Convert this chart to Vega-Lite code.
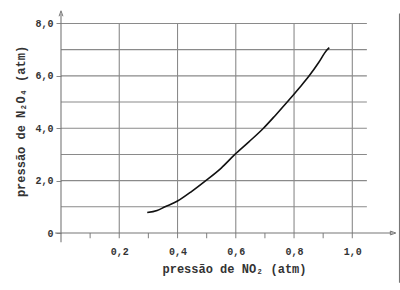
{
  "$schema": "https://vega.github.io/schema/vega-lite/v6.json",
  "width": 335,
  "height": 220,
  "autosize": "none",
  "padding": {"left": 61, "top": 13, "right": 4, "bottom": 57},
  "background": "white",
  "config": {"view": {"stroke": null}},
  "datasets": {
    "curve": [
      {"x": 0.296, "y": 0.78},
      {"x": 0.33, "y": 0.86},
      {"x": 0.357, "y": 1.0},
      {"x": 0.40, "y": 1.22},
      {"x": 0.45, "y": 1.6},
      {"x": 0.497, "y": 2.0},
      {"x": 0.55, "y": 2.48},
      {"x": 0.597, "y": 3.0},
      {"x": 0.645, "y": 3.48},
      {"x": 0.695, "y": 4.0},
      {"x": 0.735, "y": 4.48},
      {"x": 0.775, "y": 4.98},
      {"x": 0.815, "y": 5.5},
      {"x": 0.852, "y": 6.0},
      {"x": 0.884, "y": 6.5},
      {"x": 0.912, "y": 6.98},
      {"x": 0.921, "y": 7.08}
    ],
    "hgrid": [
      {"y": 1, "x": 0, "x2": 1.05},
      {"y": 2, "x": 0, "x2": 1.05},
      {"y": 3, "x": 0, "x2": 1.05},
      {"y": 4, "x": 0, "x2": 1.05},
      {"y": 5, "x": 0, "x2": 1.05},
      {"y": 6, "x": 0, "x2": 1.05},
      {"y": 7, "x": 0, "x2": 1.05},
      {"y": 8, "x": 0, "x2": 1.05}
    ],
    "vgrid": [
      {"x": 0.1, "y": 0, "y2": -0.2},
      {"x": 0.2, "y": -0.2, "y2": 8},
      {"x": 0.3, "y": 0, "y2": -0.2},
      {"x": 0.4, "y": -0.2, "y2": 8},
      {"x": 0.5, "y": 0, "y2": -0.2},
      {"x": 0.6, "y": -0.2, "y2": 8},
      {"x": 0.7, "y": 0, "y2": -0.2},
      {"x": 0.8, "y": -0.2, "y2": 8},
      {"x": 0.9, "y": 0, "y2": -0.2},
      {"x": 1.0, "y": -0.2, "y2": 8}
    ],
    "axislines": [
      {"x": -0.02, "x2": 1.14, "y": 0, "y2": 0},
      {"x": 0, "x2": 0, "y": -0.35, "y2": 8.38},
      {"x": 1.162, "x2": 1.162, "y": -1.9, "y2": 8.38}
    ]
  },
  "layer": [
    {
      "data": {"name": "hgrid"},
      "mark": {"type": "rule", "color": "#8a8a8a", "strokeWidth": 1.1},
      "encoding": {
        "x": {
          "field": "x", "type": "quantitative",
          "scale": {"domain": [0, 1.15], "nice": false, "zero": false},
          "axis": {
            "values": [0.2, 0.4, 0.6, 0.8, 1.0],
            "format": ".1f",
            "labelExpr": "replace(datum.label, '.', ',')",
            "labelOverlap": false,
            "domain": false, "grid": false, "ticks": false,
            "labelFont": "Liberation Mono", "labelFontWeight": "bold", "labelFontSize": 10,
            "labelColor": "#333", "labelPadding": 13,
            "title": "pressão de NO₂ (atm)",
            "titleFont": "Liberation Mono", "titleFontWeight": "bold", "titleFontSize": 12,
            "titleColor": "#333", "titleX": 173, "titleY": 35, "titleBaseline": "middle"
          }
        },
        "x2": {"field": "x2"},
        "y": {
          "field": "y", "type": "quantitative",
          "scale": {"domain": [0, 8.4], "nice": false, "zero": false},
          "axis": {
            "values": [0, 0.5, 1, 1.5, 2, 2.5, 3, 3.5, 4, 4.5, 5, 5.5, 6, 6.5, 7, 7.5, 8],
            "labelExpr": "datum.value==0 ? '0' : (datum.value%2==0 ? replace(format(datum.value,'.1f'),'.',',') : '')",
            "labelOverlap": false,
            "domain": false, "grid": false,
            "tickSize": 5, "tickColor": "#888", "tickWidth": 1,
            "labelFont": "Liberation Mono", "labelFontWeight": "bold", "labelFontSize": 10,
            "labelColor": "#333", "labelPadding": 3,
            "title": "pressão de N₂O₄ (atm)",
            "titleFont": "Liberation Mono", "titleFontWeight": "bold", "titleFontSize": 12,
            "titleColor": "#333", "titleX": -41, "titleY": 108, "titleBaseline": "middle", "titleAngle": -90
          }
        }
      }
    },
    {
      "data": {"name": "vgrid"},
      "mark": {"type": "rule", "color": "#8a8a8a", "strokeWidth": 1.1},
      "encoding": {
        "x": {"field": "x", "type": "quantitative"},
        "y": {"field": "y", "type": "quantitative"},
        "y2": {"field": "y2"}
      }
    },
    {
      "data": {"name": "axislines"},
      "mark": {"type": "rule", "color": "#777", "strokeWidth": 1.1},
      "encoding": {
        "x": {"field": "x", "type": "quantitative"},
        "x2": {"field": "x2"},
        "y": {"field": "y", "type": "quantitative"},
        "y2": {"field": "y2"}
      }
    },
    {
      "data": {"values": [{"x": 1.14, "y": 0, "s": "M-1,-0.7L1,0L-1,0.7Z"}, {"x": 0, "y": 8.38, "s": "M-0.7,1L0,-1L0.7,1"}]},
      "mark": {"type": "point", "filled": false, "color": "#777", "strokeWidth": 1, "size": 30, "opacity": 1},
      "encoding": {
        "x": {"field": "x", "type": "quantitative"},
        "y": {"field": "y", "type": "quantitative"},
        "shape": {"field": "s", "type": "nominal", "scale": null}
      }
    },
    {
      "data": {"name": "curve"},
      "mark": {"type": "line", "color": "#111", "strokeWidth": 1.6, "interpolate": "monotone"},
      "encoding": {
        "x": {"field": "x", "type": "quantitative"},
        "y": {"field": "y", "type": "quantitative"}
      }
    }
  ]
}
